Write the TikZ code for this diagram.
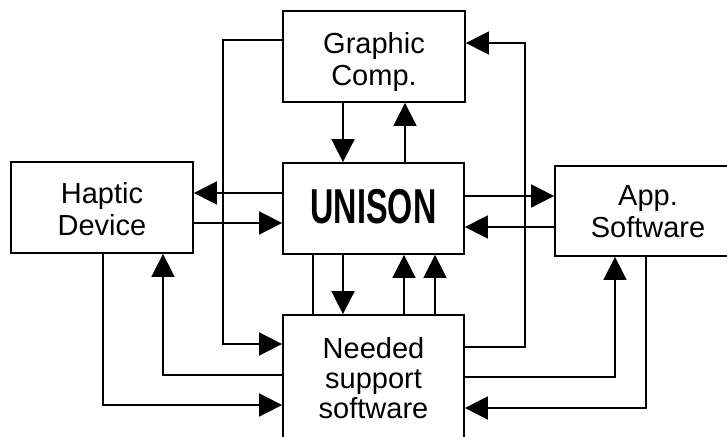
\documentclass[tikz,border=0pt]{standalone}
\usepackage{fontspec}
\usepackage{graphicx}
\setmainfont{Liberation Sans}
\usetikzlibrary{arrows.meta}
\begin{document}
\begin{tikzpicture}[x=1pt,y=-1pt,
  box/.style={draw, line width=1.8pt, inner sep=0pt},
  lbl/.style={font=\fontsize{29}{32}\selectfont, align=center, inner sep=0pt, anchor=north},
  link/.style={line width=1.7pt},
  arr/.style={link, -{Triangle[length=23pt,width=23pt]}},
]
\useasboundingbox (0,0) rectangle (727,436);
\fill[white] (0,0) rectangle (727,436);
\clip (0,0) rectangle (727,436);

% blocks
\node[box, minimum width=182pt, minimum height=91pt]  (graphic) at (374,56.5) {};
\node[box, minimum width=181pt, minimum height=91pt]  (unison)  at (373.5,208.5) {};
\node[box, minimum width=182pt, minimum height=91pt]  (haptic)  at (102,207.5) {};
\node[box, minimum width=186pt, minimum height=90pt]  (app)     at (648,211) {};
\node[box, minimum width=181pt, minimum height=135pt] (needed)  at (373.5,382.5) {};

% block captions
\node[lbl] (graphic-text) at (374,32) {Graphic\\Comp.};
\node[lbl] (haptic-text)  at (102,182) {Haptic\\Device};
\node[lbl] (app-text)     at (648,185) {App.\\Software};
\node[lbl, font=\fontsize{29}{30}\selectfont] (needed-text) at (373.5,337) {Needed\\support\\software};
\node[inner sep=0pt, anchor=base, font=\fontsize{49}{49}\selectfont\bfseries]
  (unison-text) at (373.5,223) {\scalebox{0.66}[1]{UNISON}};

% links around the central block
\draw[arr] (graphic.west |- 0,40) -- (223,40) |- (needed.west |- 0,344);
\draw[arr] (needed.east |- 0,347) -- (525,347) |- (graphic.east |- 0,43);
\draw[arr] (graphic.south -| 343,0) -- (unison.north -| 343,0);
\draw[arr] (unison.north -| 405,0) -- (graphic.south -| 405,0);
\draw[arr] (unison.west |- 0,193) -- (haptic.east |- 0,193);
\draw[arr] (haptic.east |- 0,223) -- (unison.west |- 0,223);
\draw[arr] (unison.east |- 0,196) -- (app.west |- 0,196);
\draw[arr] (app.west |- 0,227) -- (unison.east |- 0,227);
\draw[link] (unison.south -| 313,0) -- (needed.north -| 313,0);
\draw[arr] (unison.south -| 343,0) -- (needed.north -| 343,0);
\draw[arr] (needed.north -| 404,0) -- (unison.south -| 404,0);
\draw[arr] (needed.north -| 435,0) -- (unison.south -| 435,0);
\draw[arr] (haptic.south -| 103,0) |- (needed.west |- 0,405);
\draw[arr] (needed.west |- 0,375) -| (haptic.south -| 163,0);
\draw[arr] (needed.east |- 0,377) -| (app.south -| 615,0);
\draw[arr] (app.south -| 646,0) |- (needed.east |- 0,408);
\end{tikzpicture}
\end{document}
